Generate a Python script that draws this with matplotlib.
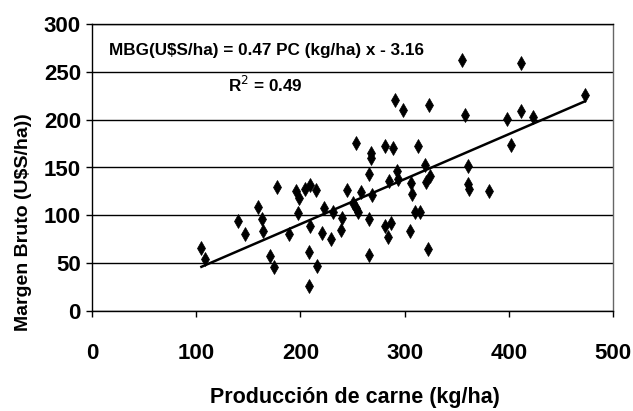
import matplotlib
matplotlib.use("Agg")
import matplotlib.pyplot as plt
import numpy as np

# Producción de carne (kg/ha) vs Margen Bruto (U$S/ha)
produccion = [105, 108, 140, 147, 159, 163, 164, 171, 175, 178,
              189, 196, 199, 198, 204, 209, 215, 209, 208, 216,
              208, 223, 231, 221, 229, 240, 239, 245, 253, 250,
              255, 253, 258, 269, 266, 266, 268, 268, 266, 281,
              289, 281, 287, 284, 291, 298, 293, 285, 294, 306,
              307, 305, 310, 315, 313, 320, 324, 321, 322, 323,
              355, 358, 361, 361, 362, 381, 398, 402, 412, 412,
              423, 473]
margen = [66, 54, 94, 80, 109, 96, 84, 57, 46, 130,
          81, 125, 118, 102, 128, 132, 127, 89, 62, 47,
          26, 108, 103, 82, 75, 97, 85, 126, 108, 113,
          103, 176, 124, 121, 96, 59, 165, 160, 143, 172,
          170, 89, 92, 77, 221, 210, 146, 136, 138, 134,
          122, 84, 103, 104, 172, 153, 141, 135, 65, 215,
          262, 205, 152, 133, 128, 125, 201, 174, 259, 209,
          203, 226]

# regression MBG = 0.47 PC - 3.16
pendiente = 0.47
intercepto = -3.16

plt.rcParams['font.family'] = ['Liberation Sans', 'DejaVu Sans']

fig = plt.figure(figsize=(6.33, 4.11), dpi=100)
ax = fig.add_axes([92 / 633, 1 - 311 / 411, 521 / 633, 287 / 411])

ax.set_xlim(0, 500)
ax.set_ylim(0, 300)
ax.set_yticks(range(0, 301, 50))
ax.set_xticks(range(0, 501, 100))
ax.yaxis.grid(True, color='black', lw=1.0)
ax.set_axisbelow(True)

ax.plot(produccion, margen, 'd', color='black', markersize=7.5, markeredgewidth=0.5)

xs = np.array([min(produccion), max(produccion)])
ax.plot(xs, pendiente * xs + intercepto, color='black', lw=1.8)

for side in ['left', 'bottom', 'top']:
    ax.spines[side].set_color('black')
    ax.spines[side].set_linewidth(1.0)
ax.spines['right'].set_color('#666666')
ax.spines['right'].set_linewidth(1.0)

ax.tick_params(axis='y', direction='out', length=4, width=1, pad=4)
ax.tick_params(axis='x', direction='out', length=4, width=1, pad=19)
for lab in ax.get_xticklabels() + ax.get_yticklabels():
    lab.set_fontsize(16)
    lab.set_fontweight('bold')

ax.set_xlabel('Producción de carne (kg/ha)', fontsize=15.5, fontweight='bold')
ax.xaxis.set_label_coords(0.505, -0.303)
ax.xaxis.label.set_va('center')
ax.set_ylabel('Margen Bruto (U$S/ha))', fontsize=14, fontweight='bold')
ax.yaxis.set_label_coords(-0.132, 0.31)
ax.yaxis.label.set_va('center')

ax.text(17 / 521, (311 - 50) / 287, 'MBG(U$S/ha) = 0.47 PC (kg/ha) x - 3.16',
        transform=ax.transAxes, fontsize=12.3, fontweight='bold', va='center', ha='left')
ax.text((265 - 92) / 521, (311 - 85) / 287, 'R$^2$ = 0.49',
        transform=ax.transAxes, fontsize=12.3, fontweight='bold', va='center', ha='center')

fig.savefig('out.png', dpi=100)
